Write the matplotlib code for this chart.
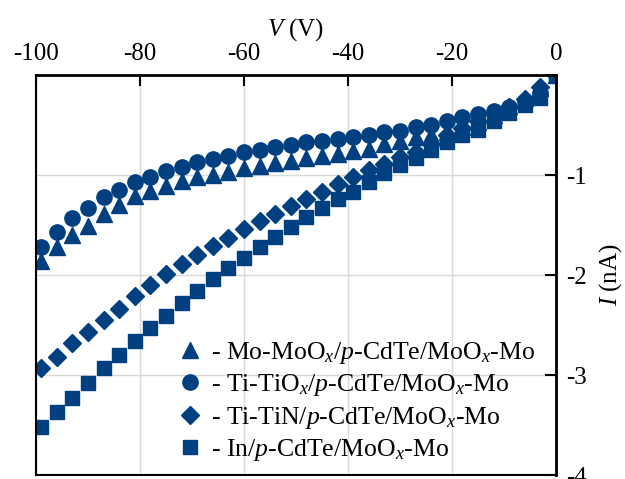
import numpy as np
import matplotlib
matplotlib.use("Agg")
import matplotlib.pyplot as plt

plt.rcParams['font.family'] = ['Liberation Serif', 'DejaVu Serif']
plt.rcParams['mathtext.fontset'] = 'custom'
plt.rcParams['mathtext.rm'] = 'Liberation Serif'
plt.rcParams['mathtext.it'] = 'Liberation Serif:italic'

# voltage (V)
voltage = [-99, -96, -93, -90, -87, -84, -81, -78, -75, -72, -69, -66,
           -63, -60, -57, -54, -51, -48, -45, -42, -39, -36, -33, -30,
           -27, -24, -21, -18, -15, -12, -9, -6, -3, 0]

# current (nA)
i_mo = [-1.86, -1.72, -1.60, -1.51, -1.39, -1.30, -1.21, -1.16, -1.11, -1.06,
        -1.02, -1.00, -0.97, -0.93, -0.91, -0.88, -0.86, -0.83, -0.81, -0.79,
        -0.76, -0.74, -0.69, -0.66, -0.62, -0.60, -0.57, -0.52, -0.47, -0.40,
        -0.31, -0.23, -0.13, 0.0]
i_ti = [-1.72, -1.57, -1.43, -1.33, -1.22, -1.15, -1.07, -1.02, -0.96, -0.92,
        -0.87, -0.84, -0.81, -0.77, -0.75, -0.72, -0.70, -0.67, -0.66, -0.64,
        -0.62, -0.60, -0.57, -0.56, -0.52, -0.50, -0.46, -0.42, -0.39, -0.36,
        -0.32, -0.26, -0.18, 0.0]
i_tin = [-2.93, -2.82, -2.68, -2.57, -2.45, -2.34, -2.21, -2.10, -1.99, -1.89,
         -1.80, -1.71, -1.63, -1.54, -1.46, -1.39, -1.31, -1.24, -1.17, -1.09,
         -1.02, -0.95, -0.89, -0.82, -0.77, -0.69, -0.60, -0.53, -0.46, -0.38,
         -0.32, -0.24, -0.12, 0.0]
i_in = [-3.52, -3.37, -3.23, -3.08, -2.93, -2.80, -2.66, -2.53, -2.41, -2.28,
        -2.16, -2.04, -1.93, -1.83, -1.72, -1.62, -1.52, -1.42, -1.33, -1.24,
        -1.17, -1.07, -0.98, -0.90, -0.83, -0.75, -0.67, -0.60, -0.55, -0.46,
        -0.38, -0.30, -0.23, 0.0]

labels = [r'- Mo-MoO$_x$/$p$-CdTe/MoO$_x$-Mo',
          r'- Ti-TiO$_x$/$p$-CdTe/MoO$_x$-Mo',
          r'- Ti-TiN/$p$-CdTe/MoO$_x$-Mo',
          r'- In/$p$-CdTe/MoO$_x$-Mo']

col = '#003f80'

fig = plt.figure(figsize=(6.25, 4.79), dpi=100)
ax = fig.add_axes([36 / 625, 1 - 475 / 479, 520 / 625, 400 / 479])

ax.plot(voltage, i_mo, '^', color=col, ms=12, label=labels[0])
ax.plot(voltage, i_ti, 'o', color=col, ms=11, label=labels[1])
ax.plot(voltage, i_tin, 'D', color=col, ms=9.5, label=labels[2])
ax.plot(voltage, i_in, 's', color=col, ms=9.5, label=labels[3])

ax.set_xlim(-100, 0)
ax.set_ylim(-4, 0)
ax.set_xticks([-100, -80, -60, -40, -20, 0])
ax.set_yticks([-4, -3, -2, -1, 0])
ax.set_yticklabels(['-4', '-3', '-2', '-1', ''])
ax.set_xticklabels(['-100', '-80', '-60', '-40', '-20', '0'])

ax.xaxis.tick_top()
ax.xaxis.set_label_position('top')
ax.yaxis.tick_right()
ax.yaxis.set_label_position('right')
ax.tick_params(direction='in', length=8, width=1.5, labelsize=18, pad=7.5)

ax.grid(True, color='#d9d9d9', lw=1)
ax.set_axisbelow(True)
for s in ax.spines.values():
    s.set_color('black')
    s.set_linewidth(1.5)
ax.spines['top'].set_linewidth(2)
ax.spines['right'].set_linewidth(2)

ax.set_xlabel(r'$V$ (V)', fontsize=18, labelpad=5)
ax.set_ylabel(r'$I$ (nA)', fontsize=18, labelpad=7)

ax.legend(loc='lower left', bbox_to_anchor=(0.277, 0.03), frameon=False,
          fontsize=18.5, handlelength=0.8, handletextpad=0.4, labelspacing=0.25,
          borderpad=0, borderaxespad=0)

fig.savefig('out.png', dpi=100)
